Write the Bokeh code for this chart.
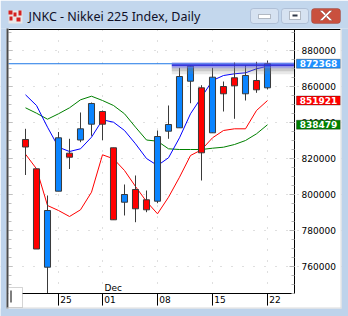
from bokeh.plotting import figure
from bokeh.models import (ColumnDataSource, Range1d, FixedTicker, LinearAxis, BoxAnnotation,
                          Label, PolyAnnotation, CustomJSTickFormatter, NumeralTickFormatter,
                          Grid)
from bokeh.embed import file_html
from bokeh.resources import INLINE

# ---------------- data ----------------
title_text = "JNKC - Nikkei 225 Index, Daily"
days = ["20", "21", "24", "25", "26", "27", "28", "01", "02", "03", "04", "05",
        "08", "09", "10", "11", "12", "15", "16", "17", "18", "19", "22"]
tick_days = ["25", "01", "08", "15", "22"]
month_label = "Dec"
month_day = "01"

opens = [830280, 814000, 759330, 801560, 822670, 830000, 838780, 845830, 825670, 795440,
         802500, 796780, 796000, 834890, 836780, 862670, 859000, 834000, 859720, 864560,
         855670, 863060, 859000]
highs = [836220, 814000, 799170, 834440, 830670, 845280, 850830, 846390, 825670, 805280,
         810280, 801940, 835280, 849170, 870110, 871390, 860440, 870110, 862500, 873060,
         871560, 873440, 874170]
lows = [810560, 769440, 745000, 801560, 813890, 828780, 832330, 829890, 785670, 788060,
        784330, 789890, 794890, 830670, 836780, 850440, 807500, 834000, 845830, 841780,
        851940, 856220, 858060]
closes = [826110, 769440, 790830, 831220, 820440, 836220, 850280, 838780, 785670, 799720,
          791780, 791220, 831940, 838610, 865280, 871000, 822890, 864890, 855670, 860110,
          865830, 857890, 872368]

ma_blue = [855110, 849170, 837110, 826000, 823610, 825110, 831560, 841220, 839890, 835280,
           827890, 819720, 815830, 820110, 831220, 844560, 853780, 863060, 865830, 866780,
           867330, 869560, 871000]
band_red = [822110, 814000, 793610, 790830, 787500, 791220, 801000, 821780, 819560, 813060,
            804170, 795830, 789000, 798220, 809330, 821390, 824560, 831220, 835280, 836220,
            836220, 846390, 851921]
band_green = [847890, 844890, 841560, 844560, 847890, 852330, 854330, 851940, 849170, 844560,
              837110, 830000, 829330, 825110, 824720, 824720, 824720, 825440, 826000, 827500,
              829720, 833440, 838479]

price_ticks = [760000, 780000, 800000, 820000, 840000, 860000, 880000]
minor_step = 5000
bid_price = 872368
red_last = 851921
green_last = 838479
resist_level = 871500
resist_start = 13.3

# ---------------- geometry (canvas pixels) ----------------
W, H = 348, 316
PL, PT, PR, PB = 8, 29, 294, 293          # plot area
BAR_PX, FIRST_BAR_PX = 11.0, 25.0
REF_PRICE, REF_PX, PX_PER_STEP = 880000, 49.5, 36.0
upp = 20000 / PX_PER_STEP                 # price units per pixel

x_start = -FIRST_BAR_PX / BAR_PX
x_end = x_start + W / BAR_PX
y_top = REF_PRICE + REF_PX * upp
y_bot = y_top - H * upp
x0p = x_start + PL / BAR_PX
x1p = x_start + PR / BAR_PX
y_hi_p = y_top - PT * upp
y_lo_p = y_top - PB * upp

p = figure(width=W, height=H, output_backend="svg", toolbar_location=None, title=None,
           x_range=Range1d(x_start, x_end), y_range=Range1d(y_bot, y_top),
           x_axis_type=None, y_axis_type=None,
           min_border=0, min_border_left=0, min_border_right=0, min_border_top=0,
           min_border_bottom=0,
           background_fill_color="white", border_fill_color="white",
           outline_line_color=None)

idx = list(range(len(days)))
tick_idx = [days.index(d) for d in tick_days]

xticker = FixedTicker(ticks=tick_idx, minor_ticks=[])
minors = list(range(745000, 891000, minor_step))
yticker = FixedTicker(ticks=price_ticks, minor_ticks=minors)

# grids limited to plot area
p.add_layout(Grid(dimension=0, ticker=xticker, bounds=(y_lo_p, y_hi_p),
                  grid_line_color="#BEBEBE", grid_line_dash="1 10"))
p.add_layout(Grid(dimension=1, ticker=yticker, bounds=(x0p, x1p),
                  grid_line_color="#BEBEBE", grid_line_dash="1 10"))

# bottom axis: tick marks
xa = LinearAxis(ticker=xticker, fixed_location=y_lo_p, bounds=(x0p, x1p),
                axis_line_color="black", axis_line_width=1,
                major_tick_line_color="black", major_tick_line_width=1,
                major_tick_out=12, major_tick_in=0, minor_tick_line_color=None,
                formatter=CustomJSTickFormatter(code="return ''"))
p.add_layout(xa, "below")
# bottom axis: labels placed just right of the tick marks
label_shift = 7.5 / BAR_PX
p.extra_x_ranges["lbl"] = Range1d(x_start - label_shift, x_end - label_shift)
xl = LinearAxis(x_range_name="lbl", ticker=xticker, fixed_location=y_lo_p,
                axis_line_color=None, major_tick_line_color=None, minor_tick_line_color=None,
                major_tick_out=0, major_tick_in=0, minor_tick_out=0, minor_tick_in=0,
                major_label_standoff=2,
                major_label_overrides={i: d for i, d in zip(tick_idx, tick_days)},
                major_label_text_font="DejaVu Sans", major_label_text_font_size="9px",
                major_label_text_color="black")
p.add_layout(xl, "below")

# right price axis
ya = LinearAxis(ticker=yticker, fixed_location=x1p, bounds=(y_lo_p, y_hi_p),
                axis_line_color="black", major_tick_in=5, major_tick_out=0,
                minor_tick_in=3, minor_tick_out=0,
                major_tick_line_color="#B4B4B4", minor_tick_line_color="#B4B4B4",
                major_label_standoff=7, formatter=NumeralTickFormatter(format="0"),
                major_label_text_font="DejaVu Sans", major_label_text_font_size="9px",
                major_label_text_color="black")
p.add_layout(ya, "right")

# left tick marks (no labels)
la = LinearAxis(ticker=yticker, fixed_location=x0p, bounds=(y_lo_p, y_hi_p),
                axis_line_color=None, major_tick_in=4, major_tick_out=0,
                minor_tick_in=3, minor_tick_out=0, major_tick_line_color="#C0C0C0",
                minor_tick_line_color="#C0C0C0", major_label_standoff=0,
                formatter=CustomJSTickFormatter(code="return ''"))
p.add_layout(la, "left")

# indicator lines
p.line(idx, band_green, color="#008000", line_width=1)
p.line(idx, band_red, color="#FF0000", line_width=1)
p.line(idx, ma_blue, color="#0000FF", line_width=1)

# bid line
p.segment(x0=[x0p], y0=[bid_price], x1=[x1p], y1=[bid_price], line_color="#1E78E6", line_width=1)

# candles
src = ColumnDataSource(dict(
    x=idx, high=highs, low=lows,
    top=[max(o, c) for o, c in zip(opens, closes)],
    bottom=[min(o, c) for o, c in zip(opens, closes)],
    color=["#0A84FF" if c >= o else "#FF0000" for o, c in zip(opens, closes)],
))
p.segment(x0="x", y0="high", x1="x", y1="low", source=src, line_color="#3A3A3A", line_width=1)
p.vbar(x="x", width=0.55, top="top", bottom="bottom", fill_color="color",
       line_color="#3A3A3A", line_width=1, source=src)

# drawn resistance line with shadow
for dy, lw, col, al in [(-5, 8, "#808080", 0.18), (-4, 4, "#707070", 0.25),
                        (0, 6, "#7070F0", 0.45), (0, 2, "#2828D8", 0.9)]:
    p.segment(x0=[resist_start], y0=[resist_level + dy * upp], x1=[x1p - 0.05],
              y1=[resist_level + dy * upp], line_color=col, line_width=lw, line_alpha=al)

# month label
p.add_layout(Label(x=tick_idx[tick_days.index(month_day)], y=y_lo_p, text=month_label,
                   x_offset=2, y_offset=1, text_baseline="bottom", text_font="DejaVu Sans",
                   text_font_size="9px", text_color="black"))

# ---------------- screen-space helpers (origin = canvas bottom-left) ----------------
def sbox(cx0, cy0, cx1, cy1, **kw):
    p.add_layout(BoxAnnotation(left=cx0, right=cx1, top=H - cy0, bottom=H - cy1,
                               left_units="screen", right_units="screen",
                               top_units="screen", bottom_units="screen",
                               level="overlay", **kw))

def spoly(pts, **kw):
    p.add_layout(PolyAnnotation(xs=[x for x, _ in pts], ys=[H - y for _, y in pts],
                                xs_units="screen", ys_units="screen", level="overlay", **kw))

# plot frame top line
sbox(PL, PT - 0.5, 340, PT + 0.5, fill_color="black", fill_alpha=1, line_color=None)

# price boxes at right
def price_box(val, fill):
    h = 4.5 * upp
    p.add_layout(BoxAnnotation(left=296, right=340, top=val + h, bottom=val - h,
                               left_units="screen", right_units="screen",
                               fill_color=fill, fill_alpha=1, line_color="black",
                               line_width=1, level="overlay"))
    p.add_layout(Label(x=318, y=val, x_units="screen", text=str(val),
                       text_align="center", text_baseline="middle",
                       text_font="DejaVu Sans", text_font_size="9px", text_font_style="bold",
                       text_color="white", level="overlay"))

price_box(bid_price, "#1E90FF")
price_box(red_last, "#FF0000")
price_box(green_last, "#008000")

# window rim
rim = "#BED3EB"
sbox(0, 0, W, 28, fill_color="#C3D7ED", fill_alpha=1, line_color=None)
sbox(0, 28, 6, H, fill_color=rim, fill_alpha=1, line_color=None)
sbox(341, 28, W, H, fill_color=rim, fill_alpha=1, line_color=None)
sbox(0, 308, W, H, fill_color=rim, fill_alpha=1, line_color=None)
sbox(6, 28, 8, 308, fill_color="#4A4A4A", fill_alpha=1, line_color=None)
sbox(340, 28, 341, 308, fill_color="#DCDCDC", fill_alpha=1, line_color=None)
sbox(6, 307, 341, 308, fill_color="#DCDCDC", fill_alpha=1, line_color=None)

# scroll box at bottom left
sbox(8, 287, 22, 307, fill_color="white", fill_alpha=1, line_color="#707070", line_width=1)
sbox(10, 290, 11, 302, fill_color="black", fill_alpha=1, line_color=None)

# icon
sbox(8, 10, 22, 23, fill_color="#E8E8E8", fill_alpha=1, line_color=None)
for (a, b, c, d) in [(8, 10, 12, 14), (13, 12, 16, 16), (18, 10, 21, 15), (9, 16, 12, 20),
                     (16, 17, 20, 21)]:
    sbox(a, b, c, d, fill_color="#D42020", fill_alpha=1, line_color=None)

# window title
p.add_layout(Label(x=28, y=H - 15.5, x_units="screen", y_units="screen", text=title_text,
                   text_baseline="middle", text_font="Noto Sans", text_font_size="12.5px",
                   text_color="#101028", level="overlay"))

# window buttons
sbox(250, 8, 278, 23, fill_color="#D6E2F1", fill_alpha=1, line_color="#6F819F", line_width=1,
     border_radius=3)
sbox(281, 8, 308, 23, fill_color="#D6E2F1", fill_alpha=1, line_color="#6F819F", line_width=1,
     border_radius=3)
sbox(311, 8, 340, 23, fill_color="#C9503E", fill_alpha=1, line_color="#7A2C22", line_width=1,
     border_radius=3)
sbox(258, 14, 270, 18, fill_color="white", fill_alpha=1, line_color="#303848", line_width=1)
sbox(289, 11, 300, 19, fill_color="white", fill_alpha=1, line_color="#303848", line_width=1)
sbox(292, 14, 297, 16, fill_color="#303848", fill_alpha=1, line_color=None)
spoly([(319, 10), (322, 10), (332, 20), (329, 20)], fill_color="white", fill_alpha=1,
      line_color="#5A2018", line_width=1)
spoly([(329, 10), (332, 10), (322, 20), (319, 20)], fill_color="white", fill_alpha=1,
      line_color="#5A2018", line_width=1)

open("out.html", "w").write(file_html(p, INLINE))
